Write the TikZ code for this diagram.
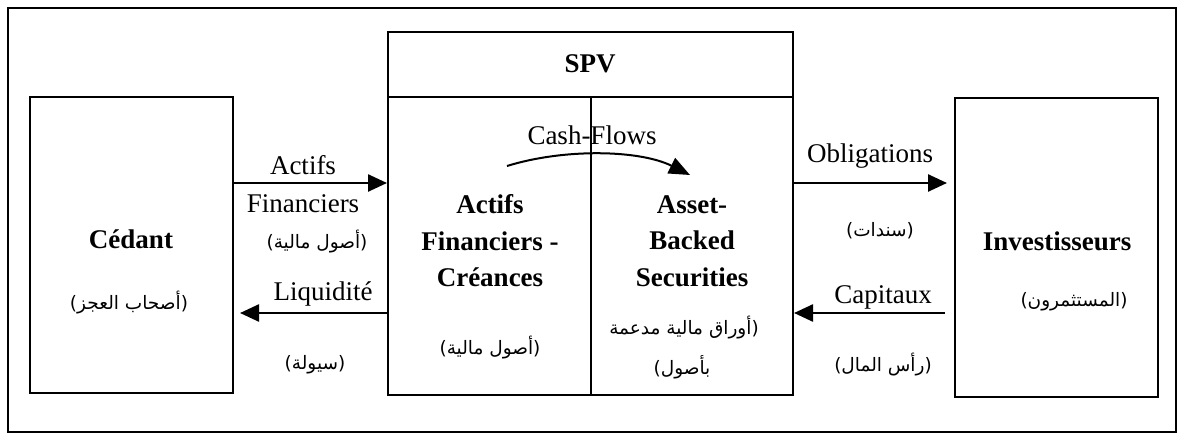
\documentclass[tikz,border=0pt]{standalone}
\usepackage{fontspec}
\setmainfont{Liberation Serif}
\newfontfamily\arabicfont[Script=Arabic]{DejaVu Sans}
\TeXXeTstate=1
\usetikzlibrary{arrows.meta}
\begin{document}
\begin{tikzpicture}[x=1pt,y=-1pt,
  box/.style={draw, line width=2pt, inner sep=0pt, rectangle},
  flow/.style={line width=2.5pt, -{Triangle[length=19pt,width=17pt]}},
  lbl/.style={font=\fontsize{27}{32}\selectfont, inner sep=0pt, anchor=base},
  ttl/.style={font=\bfseries\fontsize{27}{36.5}\selectfont, inner sep=0pt, align=center},
  ar/.style={font=\arabicfont\fontsize{18.5}{22}\selectfont, inner sep=0pt}]
\useasboundingbox (0,0) rectangle (1180,436);
\node[draw, line width=1.5pt, minimum width=1168pt, minimum height=424pt, inner sep=0pt] (frame) at (592,220) {};
% boxes
\node[box, minimum width=203pt, minimum height=296pt] (cedant) at (131.5,245) {};
\node[box, minimum width=405pt, minimum height=363pt] (spv) at (590.5,213.5) {};
\node[box, minimum width=203pt, minimum height=299pt] (inv) at (1056.5,247.5) {};
\coordinate (hdr) at (0,97);
\coordinate (div) at (591,0);
\draw[line width=2pt] (spv.west |- hdr) -- (spv.east |- hdr);
\draw[line width=2pt] (div |- hdr) -- (div |- spv.south);
% arrows
\coordinate (yA) at (0,183);
\coordinate (yB) at (0,313);
\draw[flow] (cedant.east |- yA) -- (spv.west |- yA);
\draw[flow, shorten >=6pt] (spv.west |- yB) -- (cedant.east |- yB);
\draw[flow, shorten >=7pt] (spv.east |- yA) -- (inv.west |- yA);
\draw[flow, shorten <=9pt] (inv.west |- yB) -- (spv.east |- yB);
% cash-flow curve
\coordinate (cf1) at (507,166);
\coordinate (cf2) at (690,175);
\draw[line width=2pt, -{Triangle[length=21pt,width=17pt]}] (cf1) .. controls (565,148) and (640,150) .. (cf2);
% titles
\node[ttl, anchor=base] (tced) at (131,248) {Cédant};
\node[ttl, anchor=base] (tspv) at (590,73) {SPV};
\node[ttl, anchor=base] (tinv) at (1057,250) {Investisseurs};
\node[ttl] (tact) at (490,241) {Actifs\\Financiers -\\Créances};
\node[ttl] (tabs) at (692,241) {Asset-\\Backed\\Securities};
% labels
\node[lbl] (lact) at (303,174) {Actifs};
\node[lbl] (lfin) at (303,212) {Financiers};
\node[lbl] (lliq) at (323,300) {Liquidité};
\node[lbl] (lcf) at (592,144) {Cash-Flows};
\node[lbl] (lobl) at (870,162) {Obligations};
\node[lbl] (lcap) at (883,303) {Capitaux};
% arabic
\node[ar] (a1) at (129,303) {\beginR(أصحاب العجز)\endR};
\node[ar] (a2) at (317,242) {\beginR(أصول مالية)\endR};
\node[ar] (a3) at (315,365) {\beginR(سيولة)\endR};
\node[ar] (a4) at (490,348) {\beginR(أصول مالية)\endR};
\node[ar] (a5) at (684,328) {\beginR(أوراق مالية مدعمة\endR};
\node[ar] (a6) at (682,367) {\beginR بأصول)\endR};
\node[ar] (a7) at (880,231) {\beginR(سندات)\endR};
\node[ar] (a8) at (883,365) {\beginR(رأس المال)\endR};
\node[ar] (a9) at (1074,302) {\beginR(المستثمرون)\endR};
\end{tikzpicture}
\end{document}
